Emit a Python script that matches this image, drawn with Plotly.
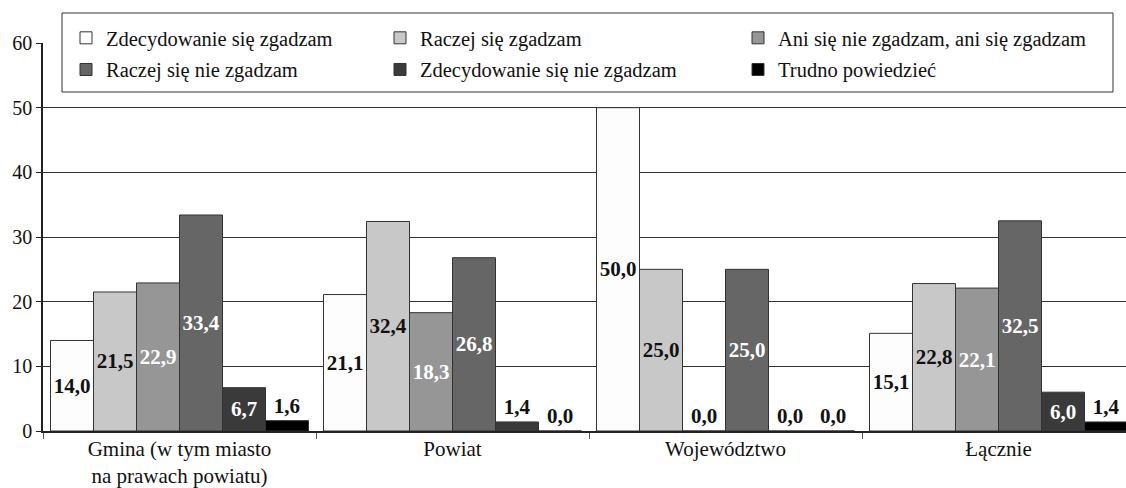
import plotly.graph_objects as go

categories = ["Gmina (w tym miasto<br>na prawach powiatu)", "Powiat", "Województwo", "Łącznie"]
series_names = [
    "Zdecydowanie się zgadzam",
    "Raczej się zgadzam",
    "Ani się nie zgadzam, ani się zgadzam",
    "Raczej się nie zgadzam",
    "Zdecydowanie się nie zgadzam",
    "Trudno powiedzieć",
]
zdecydowanie_tak = [14.0, 21.1, 50.0, 15.1]
raczej_tak = [21.5, 32.4, 25.0, 22.8]
ani = [22.9, 18.3, 0.0, 22.1]
raczej_nie = [33.4, 26.8, 25.0, 32.5]
zdecydowanie_nie = [6.7, 1.4, 0.0, 6.0]
trudno = [1.6, 0.0, 0.0, 1.4]
y_ticks = [0, 10, 20, 30, 40, 50, 60]

series_values = [zdecydowanie_tak, raczej_tak, ani, raczej_nie, zdecydowanie_nie, trudno]
fills = ["#fdfdfd", "#c8c8c8", "#969696", "#666666", "#3a3a3a", "#000000"]
inside_text_colors = ["#111111", "#111111", "#ffffff", "#ffffff", "#ffffff", "#ffffff"]
legend_ids = ["legend", "legend2", "legend3", "legend", "legend2", "legend3"]

FONT = "Liberation Serif, Times New Roman, serif"
W, H = 1126, 488
ML, MR, MT, MB = 43, 0, 43, 57
PW = W - ML - MR
PH = H - MT - MB

fig = go.Figure()
for name, vals, fill, tcol, lg in zip(series_names, series_values, fills, inside_text_colors, legend_ids):
    fig.add_trace(go.Bar(
        name=name,
        x=categories,
        y=vals,
        marker=dict(color=fill, line=dict(color="#333333", width=1)),
        text=[f"{v:.1f}".replace(".", ",") for v in vals],
        textposition=["outside" if v < 3 else "inside" for v in vals],
        insidetextanchor="middle",
        textangle=0,
        constraintext="none",
        cliponaxis=False,
        insidetextfont=dict(family=FONT, size=21, color=tcol),
        outsidetextfont=dict(family=FONT, size=21, color="#111111"),
        texttemplate="<b>%{text}</b>",
        legend=lg,
        legendgroup=name,
        hoverinfo="skip",
    ))

def px_to_paper_x(px):
    return (px - ML) / PW

def px_to_paper_y(py):
    return (H - MB - py) / PH

legend_common = dict(
    orientation="v",
    xanchor="left",
    yanchor="top",
    bgcolor="rgba(0,0,0,0)",
    borderwidth=0,
    font=dict(family=FONT, size=20.5, color="#111111"),
    tracegroupgap=2,
    itemclick=False,
    itemdoubleclick=False,
)

fig.update_layout(
    width=W,
    height=H,
    margin=dict(l=ML, r=MR, t=MT, b=MB, pad=0, autoexpand=False),
    paper_bgcolor="white",
    plot_bgcolor="white",
    barmode="group",
    bargap=0.055,
    bargroupgap=0,
    font=dict(family=FONT, size=19, color="#111111"),
    showlegend=True,
    legend=dict(x=px_to_paper_x(66), y=px_to_paper_y(18), **legend_common),
    legend2=dict(x=px_to_paper_x(380), y=px_to_paper_y(18), **legend_common),
    legend3=dict(x=px_to_paper_x(738), y=px_to_paper_y(18), **legend_common),
    xaxis=dict(
        range=[-0.5, 3.467],
        showgrid=False,
        showline=True,
        linecolor="#222222",
        linewidth=1.5,
        ticks="outside",
        tickson="boundaries",
        ticklen=6,
        tickcolor="#555555",
        ticklabelstandoff=-2,
        tickfont=dict(family=FONT, size=21, color="#111111"),
        tickangle=0,
        automargin=False,
        fixedrange=True,
    ),
    yaxis=dict(
        range=[0, 60],
        tickvals=y_ticks,
        showgrid=True,
        gridcolor="#333333",
        gridwidth=1,
        zeroline=False,
        showline=True,
        linecolor="#222222",
        linewidth=1.5,
        ticks="outside",
        ticklen=5,
        tickcolor="#222222",
        tickfont=dict(family=FONT, size=20, color="#111111"),
        automargin=False,
        fixedrange=True,
    ),
    shapes=[dict(
        type="rect",
        xref="paper", yref="paper",
        x0=px_to_paper_x(62), x1=px_to_paper_x(1113),
        y0=px_to_paper_y(92), y1=px_to_paper_y(13),
        fillcolor="white",
        line=dict(color="#333333", width=1),
        layer="above",
    )],
)

fig.write_html(
    "out.html",
    config={"displayModeBar": False},
    post_script="document.body.style.margin='0px';document.body.style.overflow='hidden';",
)
